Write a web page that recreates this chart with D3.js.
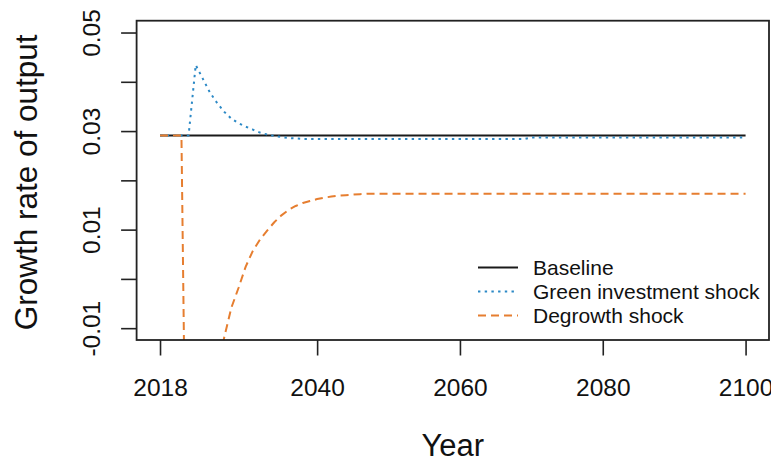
<!DOCTYPE html>
<html>
<head>
<meta charset="utf-8">
<script src="https://cdn.jsdelivr.net/npm/d3@7"></script>
<style>
  html, body { margin: 0; padding: 0; background: #ffffff; }
  svg { display: block; font-family: "Liberation Sans", Arial, sans-serif; }
</style>
</head>
<body>
<svg id="chart" width="771" height="463"></svg>
<script>
// Annual growth rate of output, 2018-2100, under three scenarios
const years = d3.range(2018, 2101);

const baseline = [
  0.0291, 0.0291, 0.0291, 0.0291, 0.0291, 0.0291, 0.0291, 0.0291, 0.0291, 0.0291,
  0.0291, 0.0291, 0.0291, 0.0291, 0.0291, 0.0291, 0.0291, 0.0291, 0.0291, 0.0291,
  0.0291, 0.0291, 0.0291, 0.0291, 0.0291, 0.0291, 0.0291, 0.0291, 0.0291, 0.0291,
  0.0291, 0.0291, 0.0291, 0.0291, 0.0291, 0.0291, 0.0291, 0.0291, 0.0291, 0.0291,
  0.0291, 0.0291, 0.0291, 0.0291, 0.0291, 0.0291, 0.0291, 0.0291, 0.0291, 0.0291,
  0.0291, 0.0291, 0.0291, 0.0291, 0.0291, 0.0291, 0.0291, 0.0291, 0.0291, 0.0291,
  0.0291, 0.0291, 0.0291, 0.0291, 0.0291, 0.0291, 0.0291, 0.0291, 0.0291, 0.0291,
  0.0291, 0.0291, 0.0291, 0.0291, 0.0291, 0.0291, 0.0291, 0.0291, 0.0291, 0.0291,
  0.0291, 0.0291, 0.0291
];

const greenInvestment = [
  0.0291, 0.0291, 0.0291, 0.0291, 0.0291, 0.0434, 0.0406, 0.0378, 0.0357, 0.0339,
  0.0325, 0.0316, 0.0309, 0.0303, 0.0297, 0.0293, 0.0290, 0.0288, 0.0286, 0.0285,
  0.0284, 0.0284, 0.0284, 0.0284, 0.0284, 0.0284, 0.0284, 0.0284, 0.0284, 0.0284,
  0.0284, 0.0284, 0.0284, 0.0284, 0.0284, 0.0284, 0.0284, 0.0284, 0.0284, 0.0284,
  0.0284, 0.0284, 0.0284, 0.0284, 0.0284, 0.0284, 0.0284, 0.0284, 0.0284, 0.0284,
  0.0284, 0.0284, 0.0287, 0.0287, 0.0287, 0.0287, 0.0287, 0.0287, 0.0287, 0.0287,
  0.0287, 0.0287, 0.0287, 0.0287, 0.0287, 0.0287, 0.0287, 0.0287, 0.0287, 0.0287,
  0.0287, 0.0287, 0.0287, 0.0287, 0.0287, 0.0287, 0.0287, 0.0287, 0.0287, 0.0287,
  0.0287, 0.0287, 0.0287
];

const degrowth = [
  0.0291, 0.0291, 0.0291, 0.0291, -0.0900, -0.0600, -0.0400, -0.0280, -0.0190, -0.0118,
  -0.0058, -0.0018, 0.0025, 0.0057, 0.0080, 0.0098, 0.0115, 0.0129, 0.0140, 0.0148,
  0.0154, 0.0158, 0.0162, 0.0165, 0.0167, 0.0169, 0.0170, 0.0171, 0.0172, 0.0173,
  0.0173, 0.0173, 0.0173, 0.0173, 0.0173, 0.0173, 0.0173, 0.0173, 0.0173, 0.0173,
  0.0173, 0.0173, 0.0173, 0.0173, 0.0173, 0.0173, 0.0173, 0.0173, 0.0173, 0.0173,
  0.0173, 0.0173, 0.0173, 0.0173, 0.0173, 0.0173, 0.0173, 0.0173, 0.0173, 0.0173,
  0.0173, 0.0173, 0.0173, 0.0173, 0.0173, 0.0173, 0.0173, 0.0173, 0.0173, 0.0173,
  0.0173, 0.0173, 0.0173, 0.0173, 0.0173, 0.0173, 0.0173, 0.0173, 0.0173, 0.0173,
  0.0173, 0.0173, 0.0173
];

const xTicks = [2018, 2040, 2060, 2080, 2100];
const yTicks = [-0.01, 0, 0.01, 0.02, 0.03, 0.04, 0.05];
const yTickLabels = ["-0.01", "", "0.01", "", "0.03", "", "0.05"];

const seriesNames = ["Baseline", "Green investment shock", "Degrowth shock"];

// ---- layout ----
const svg = d3.select("#chart");
const W = 771, H = 463;
const plot = { left: 136.6, right: 769, top: 20.7, bottom: 340 };

// axis limits padded by 4% on each side
const xLim = [2018, 2100], yLim = [-0.01, 0.05];
const xPad = (xLim[1] - xLim[0]) * 0.04, yPad = (yLim[1] - yLim[0]) * 0.04;

const x = d3.scaleLinear().domain([xLim[0] - xPad, xLim[1] + xPad]).range([plot.left, plot.right]);
const y = d3.scaleLinear().domain([yLim[0] - yPad, yLim[1] + yPad]).range([plot.bottom, plot.top]);

svg.append("rect").attr("width", W).attr("height", H).attr("fill", "#ffffff");

svg.append("defs").append("clipPath").attr("id", "plot-clip")
  .append("rect")
  .attr("x", plot.left).attr("y", plot.top)
  .attr("width", plot.right - plot.left).attr("height", plot.bottom - plot.top);

const tickLen = 15.5;
const tickFont = 24.5;

// x axis
const gx = svg.append("g")
  .attr("transform", `translate(0,${plot.bottom})`)
  .call(d3.axisBottom(x).tickValues(xTicks).tickFormat(d3.format("d")).tickSize(tickLen).tickSizeOuter(0));
gx.select(".domain").remove();
gx.selectAll(".tick line").attr("stroke", "#222").attr("stroke-width", 1.6);
gx.selectAll(".tick text")
  .attr("y", 56).attr("dy", null)
  .attr("font-size", tickFont).attr("fill", "#111")
  .attr("font-family", "Liberation Sans, Arial, sans-serif");

// y axis, labels parallel to the axis
const gy = svg.append("g")
  .attr("transform", `translate(${plot.left},0)`)
  .call(d3.axisLeft(y).tickValues(yTicks).tickFormat((d, i) => yTickLabels[i]).tickSize(tickLen).tickSizeOuter(0));
gy.select(".domain").remove();
gy.selectAll(".tick line").attr("stroke", "#222").attr("stroke-width", 1.6);
gy.selectAll(".tick text")
  .attr("x", null).attr("dy", null)
  .attr("transform", `translate(${100 - plot.left},0) rotate(-90)`)
  .attr("text-anchor", "middle")
  .attr("font-size", tickFont).attr("fill", "#111")
  .attr("font-family", "Liberation Sans, Arial, sans-serif");

// axis titles
svg.append("text")
  .attr("x", (plot.left + plot.right) / 2).attr("y", 456)
  .attr("text-anchor", "middle").attr("font-size", 31).attr("fill", "#111")
  .text("Year");
svg.append("text")
  .attr("transform", `translate(37,${(plot.top + plot.bottom) / 2 + 2}) rotate(-90)`)
  .attr("text-anchor", "middle").attr("font-size", 31.5).attr("fill", "#111")
  .text("Growth rate of output");

// series lines
const styles = [
  { values: baseline, color: "#1a1a1a", dash: null, width: 1.9 },
  { values: greenInvestment, color: "#2C89C6", dash: "2.4,4.3", width: 2 },
  { values: degrowth, color: "#E67E30", dash: "8,5", width: 2 }
];

const line = d3.line().x(d => x(d[0])).y(d => y(d[1]));
const linesG = svg.append("g").attr("clip-path", "url(#plot-clip)");
styles.forEach(s => {
  linesG.append("path")
    .datum(years.map((yr, i) => [yr, s.values[i]]))
    .attr("d", line)
    .attr("fill", "none")
    .attr("stroke", s.color)
    .attr("stroke-width", s.width)
    .attr("stroke-dasharray", s.dash)
    .attr("stroke-linejoin", "round");
});

// plot box
svg.append("rect")
  .attr("x", plot.left).attr("y", plot.top)
  .attr("width", plot.right - plot.left).attr("height", plot.bottom - plot.top)
  .attr("fill", "none").attr("stroke", "#222").attr("stroke-width", 1.8);

// legend
const legend = svg.append("g");
const legX0 = 478, legX1 = 518, legTextX = 533, legBase0 = 275, legStep = 24;
styles.forEach((s, i) => {
  const by = legBase0 + i * legStep;
  legend.append("line")
    .attr("x1", legX0).attr("x2", legX1)
    .attr("y1", by - 7.5).attr("y2", by - 7.5)
    .attr("stroke", s.color).attr("stroke-width", s.width)
    .attr("stroke-dasharray", s.dash);
  legend.append("text")
    .attr("x", legTextX).attr("y", by)
    .attr("font-size", 21).attr("fill", "#111")
    .text(seriesNames[i]);
});
</script>
</body>
</html>
